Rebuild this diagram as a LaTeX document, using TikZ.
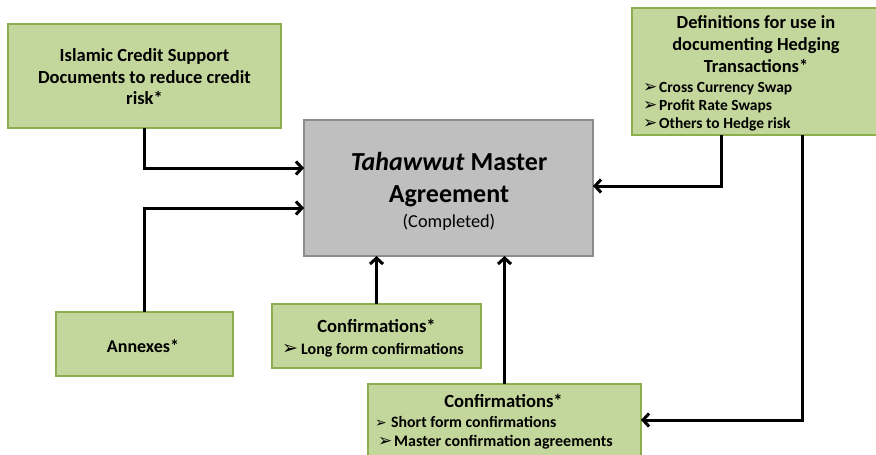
\documentclass[tikz,border=0pt]{standalone}
\usepackage{fontspec}
\setmainfont{Carlito}
\newfontfamily\dejavu{DejaVu Sans}
\usetikzlibrary{arrows.meta}
\definecolor{gfill}{HTML}{C3D69B}
\definecolor{gline}{HTML}{8DAE4C}
\definecolor{kfill}{HTML}{BFBFBF}
\definecolor{kline}{HTML}{8C8C8C}
\newcommand\fsz[1]{\fontsize{#1}{#1}\selectfont}
\newcommand\bul[2]{\makebox[#2pt][l]{\dejavu\fontsize{#1}{#1}\selectfont ➢}}
\begin{document}
\begin{tikzpicture}[x=1pt,y=-1pt,
  gbox/.style={draw=gline, fill=gfill, line width=1.5pt, rectangle, inner sep=0pt, outer sep=0pt, anchor=north west},
  kbox/.style={draw=kline, fill=kfill, line width=1.5pt, rectangle, inner sep=0pt, outer sep=0pt, anchor=north west},
  conn/.style={line width=3pt, -{Straight Barb[length=6pt,width=13pt]}},
  txt/.style={inner sep=0pt, anchor=base, font=\bfseries},
  ltxt/.style={inner sep=0pt, anchor=base west, font=\bfseries}]
\useasboundingbox (0,0) rectangle (876,455);
\clip (0,0) rectangle (876,455);
% boxes
\node[gbox, minimum width=273pt, minimum height=104pt] (credit) at (8,24) {};
\node[gbox, minimum width=250pt, minimum height=127pt] (defs) at (632,8) {};
\node[kbox, minimum width=289pt, minimum height=136pt] (master) at (304,120) {};
\node[gbox, minimum width=177pt, minimum height=64pt] (annex) at (56,312) {};
\node[gbox, minimum width=209pt, minimum height=64pt] (conf1) at (272,304) {};
\node[gbox, minimum width=273pt, minimum height=72pt] (conf2) at (368,384) {};
% texts
\node[txt, font=\bfseries\fsz{18.5}] (c1) at (144.5,61) {Islamic Credit Support};
\node[txt, font=\bfseries\fsz{18.5}] (c2) at (144.5,83) {Documents to reduce credit};
\node[txt, font=\bfseries\fsz{18.5}] (c3) at (144.5,104) {risk*};
\node[txt, font=\bfseries\fsz{18.4}] (d1) at (756,28) {Definitions for use in};
\node[txt, font=\bfseries\fsz{18.4}] (d2) at (756,50) {documenting Hedging};
\node[txt, font=\bfseries\fsz{18.4}] (d3) at (756,72) {Transactions*};
\node[ltxt, font=\bfseries\fsz{15.5}] (d4) at (643,92) {\bul{17}{16}Cross Currency Swap};
\node[ltxt, font=\bfseries\fsz{15.5}] (d5) at (643,110) {\bul{17}{16}Profit Rate Swaps};
\node[ltxt, font=\bfseries\fsz{15.5}] (d6) at (643,128) {\bul{17}{16}Others to Hedge risk};
\node[txt, font=\bfseries\fsz{26}] (m1) at (449,170) {\textit{Tahawwut} Master};
\node[txt, font=\bfseries\fsz{26}] (m2) at (449,202) {Agreement};
\node[txt, font=\fsz{18.3}] (m3) at (449,227) {(Completed)};
\node[txt, font=\bfseries\fsz{18}] (a1) at (143,352) {Annexes*};
\node[txt, font=\bfseries\fsz{18.6}] (f1) at (376.5,332) {Confirmations*};
\node[ltxt, font=\bfseries\fsz{16}] (f2) at (282,354) {\bul{19}{19}Long form confirmations};
\node[txt, font=\bfseries\fsz{18.6}] (g1) at (503.5,407) {Confirmations*};
\node[ltxt, font=\bfseries\fsz{15.8}] (g2) at (375,427) {\bul{14}{16}Short form confirmations};
\node[ltxt, font=\bfseries\fsz{16}] (g3) at (378,446) {\bul{17}{16}Master confirmation agreements};
% connectors
\draw[conn] (credit.south) |- ([yshift=20pt]master.west);
\draw[conn] (annex.north) |- ([yshift=-20pt]master.west);
\draw[conn] (conf1.north) -- (conf1.north |- master.south);
\draw[conn] (conf2.north) -- (conf2.north |- master.south);
\draw[conn] ([xshift=-36pt]defs.south) |- ([yshift=2pt]master.east);
\draw[conn] ([xshift=45pt]defs.south) |- (conf2.east);
\end{tikzpicture}
\end{document}
